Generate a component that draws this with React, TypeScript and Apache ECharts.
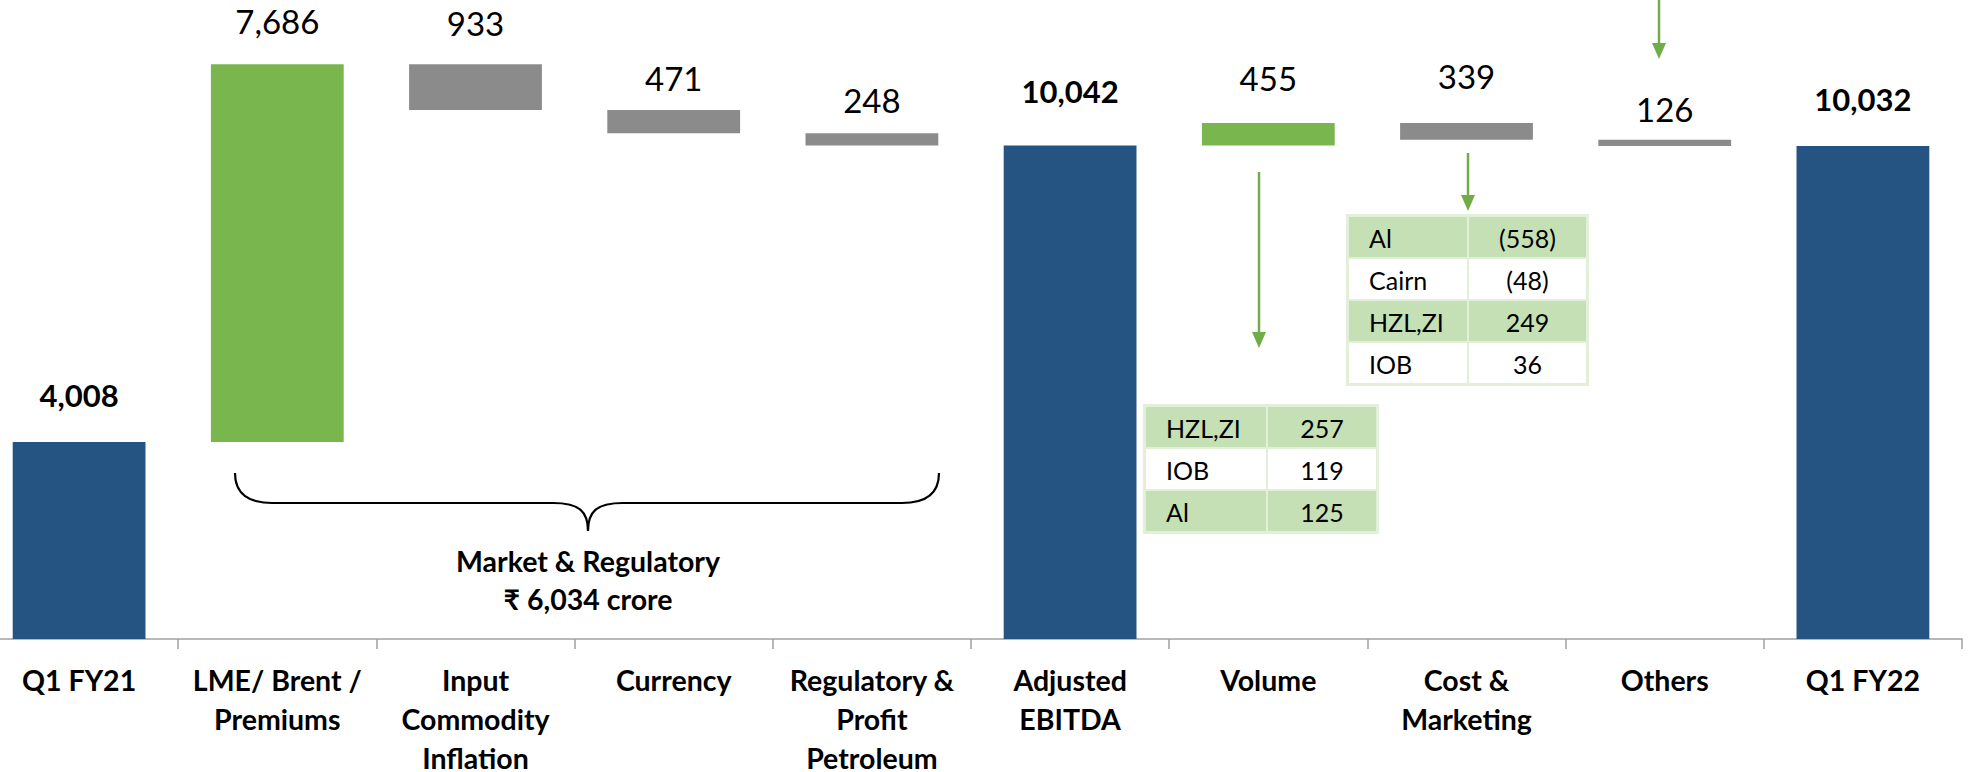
import { useEffect, useRef } from "react";
import * as echarts from "echarts";

const categories = [
  "Q1 FY21",
  "LME/ Brent /\nPremiums",
  "Input\nCommodity\nInflation",
  "Currency",
  "Regulatory &\nProfit\nPetroleum",
  "Adjusted\nEBITDA",
  "Volume",
  "Cost &\nMarketing",
  "Others",
  "Q1 FY22",
];
const values = [4008, 7686, 933, 471, 248, 10042, 455, 339, 126, 10032];
const steps = ["total", "up", "down", "down", "down", "total", "up", "down", "down", "total"];

const volumeNames = ["HZL,ZI", "IOB", "Al"];
const volumeValues = ["257", "119", "125"];
const costNames = ["Al", "Cairn", "HZL,ZI", "IOB"];
const costValues = ["(558)", "(48)", "249", "36"];
const braceTitle = "Market & Regulatory";
const braceValue = "₹ 6,034 crore";

// label distance above each bar (style only, px) — mirrors the hand-placed labels of the original
const labelDistances = [31, 27, 25, 16, 17, 39, 29, 31, 14, 31];

const FONT = 'Lato, "Noto Sans", "DejaVu Sans", sans-serif';
const BLUE = "#265482";
const GREEN = "#7ab64e";
const GRAY = "#8b8b8b";
const ARROW = "#70ad47";
const CELL_GREEN = "#c5e0b4";
const CELL_LINE = "#e2efd9";
const OFF = 20; // the chart div is shifted 20px to the left

function buildTable(left: number, top: number, colW: number[], rowH: number, names: string[], vals: string[]) {
  const els: any[] = [];
  const x0 = left + OFF;
  const w = colW[0] + colW[1];
  names.forEach((n, i) => {
    const y = top + i * rowH;
    const fill = i % 2 === 0 ? CELL_GREEN : "#ffffff";
    els.push({
      type: "rect",
      shape: { x: x0, y, width: colW[0], height: rowH },
      style: { fill, stroke: CELL_LINE, lineWidth: 2 },
    });
    els.push({
      type: "rect",
      shape: { x: x0 + colW[0], y, width: colW[1], height: rowH },
      style: { fill, stroke: CELL_LINE, lineWidth: 2 },
    });
    els.push({
      type: "text",
      x: x0 + 21,
      y: y + rowH / 2 + 1,
      style: { text: n, font: `25px ${FONT}`, fill: "#000", textAlign: "left", textVerticalAlign: "middle" },
    });
    els.push({
      type: "text",
      x: x0 + colW[0] + colW[1] / 2,
      y: y + rowH / 2 + 1,
      style: { text: vals[i], font: `25px ${FONT}`, fill: "#000", textAlign: "center", textVerticalAlign: "middle" },
    });
  });
  els.push({
    type: "rect",
    shape: { x: x0 - 1, y: top - 1, width: w + 2, height: rowH * names.length + 2 },
    style: { fill: "none", stroke: CELL_LINE, lineWidth: 2 },
  });
  return els;
}

function buildArrow(x: number, y1: number, tip: number) {
  const X = x + OFF;
  return [
    { type: "line", shape: { x1: X, y1, x2: X, y2: tip - 12 }, style: { stroke: ARROW, lineWidth: 2.5 } },
    {
      type: "polygon",
      shape: { points: [[X - 7, tip - 16], [X + 7, tip - 16], [X, tip]] },
      style: { fill: ARROW },
    },
  ];
}

function buildBrace() {
  const s = { stroke: "#000", lineWidth: 2.2, fill: "none" };
  const o = OFF;
  const yl = 503;
  const mid = 588;
  return [
    { type: "bezierCurve", shape: { x1: 235 + o, y1: 473, x2: 272 + o, y2: yl, cpx1: 235 + o, cpy1: yl }, style: s },
    { type: "line", shape: { x1: 272 + o, y1: yl, x2: 553 + o, y2: yl }, style: s },
    {
      type: "bezierCurve",
      shape: { x1: 553 + o, y1: yl, x2: mid + o, y2: 531, cpx1: 580 + o, cpy1: yl, cpx2: mid + o, cpy2: 512 },
      style: s,
    },
    {
      type: "bezierCurve",
      shape: { x1: mid + o, y1: 531, x2: 623 + o, y2: yl, cpx1: mid + o, cpy1: 512, cpx2: 596 + o, cpy2: yl },
      style: s,
    },
    { type: "line", shape: { x1: 623 + o, y1: yl, x2: 902 + o, y2: yl }, style: s },
    { type: "bezierCurve", shape: { x1: 902 + o, y1: yl, x2: 939 + o, y2: 473, cpx1: 939 + o, cpy1: yl }, style: s },
    {
      type: "text",
      x: mid + o,
      y: 561,
      style: { text: braceTitle, font: `bold 28.5px ${FONT}`, fill: "#000", textAlign: "center", textVerticalAlign: "middle" },
    },
    {
      type: "text",
      x: mid + o,
      y: 599,
      style: { text: braceValue, font: `bold 28.5px ${FONT}`, fill: "#000", textAlign: "center", textVerticalAlign: "middle" },
    },
  ];
}

export default function App() {
  const ref = useRef<HTMLDivElement>(null);
  useEffect(() => {
    if (!ref.current) return;
    const chart = echarts.init(ref.current, null, { renderer: "svg" });

    const bases: number[] = [];
    let running = 0;
    values.forEach((v, i) => {
      const s = steps[i];
      if (s === "total") {
        bases.push(0);
        running = v;
      } else if (s === "up") {
        bases.push(running);
        running += v;
      } else {
        running -= v;
        bases.push(running);
      }
    });

    const colorOf = (s: string) => (s === "total" ? BLUE : s === "up" ? GREEN : GRAY);

    chart.setOption({
      animation: false,
      grid: { left: 0, right: 6, top: 0, bottom: 133, containLabel: false, outerBoundsMode: "none" },
      xAxis: {
        type: "category",
        data: categories,
        axisLine: { lineStyle: { color: "#a0a0a0", width: 1.5 } },
        axisTick: { show: true, length: 10, lineStyle: { color: "#a0a0a0", width: 1.5 } },
        axisLabel: {
          interval: 0,
          margin: 21,
          color: "#000",
          fontFamily: FONT,
          fontWeight: "bold",
          fontSize: 28.5,
          lineHeight: 39,
        },
      },
      yAxis: { type: "value", min: 0, max: 13000, show: false, splitLine: { show: false } },
      series: [
        {
          type: "bar",
          stack: "w",
          silent: true,
          barWidth: "67%",
          itemStyle: { color: "transparent" },
          data: bases,
        },
        {
          type: "bar",
          stack: "w",
          barWidth: "67%",
          data: values.map((v, i) => ({
            value: v,
            itemStyle: { color: colorOf(steps[i]) },
            label: {
              fontWeight: steps[i] === "total" ? "bold" : "normal",
              fontSize: steps[i] === "total" ? 31 : 33,
              distance: labelDistances[i],
            },
          })),
          label: {
            show: true,
            position: "top",
            color: "#000",
            fontFamily: FONT,
            fontSize: 31,
            formatter: (p: any) => values[p.dataIndex].toLocaleString("en-US"),
          },
        },
      ],
      graphic: [
        ...buildBrace(),
        ...buildArrow(1259, 172, 348),
        ...buildArrow(1468, 153, 211),
        ...buildArrow(1659, 0, 59),
        ...buildTable(1145, 406, [122, 110], 42, volumeNames, volumeValues),
        ...buildTable(1348, 216, [120, 119], 42, costNames, costValues),
      ],
    });
    return () => chart.dispose();
  }, []);
  return (
    <div
      ref={ref}
      style={{ position: "fixed", left: -OFF, top: 0, width: 1968 + OFF, height: 772, background: "#fff" }}
    />
  );
}
